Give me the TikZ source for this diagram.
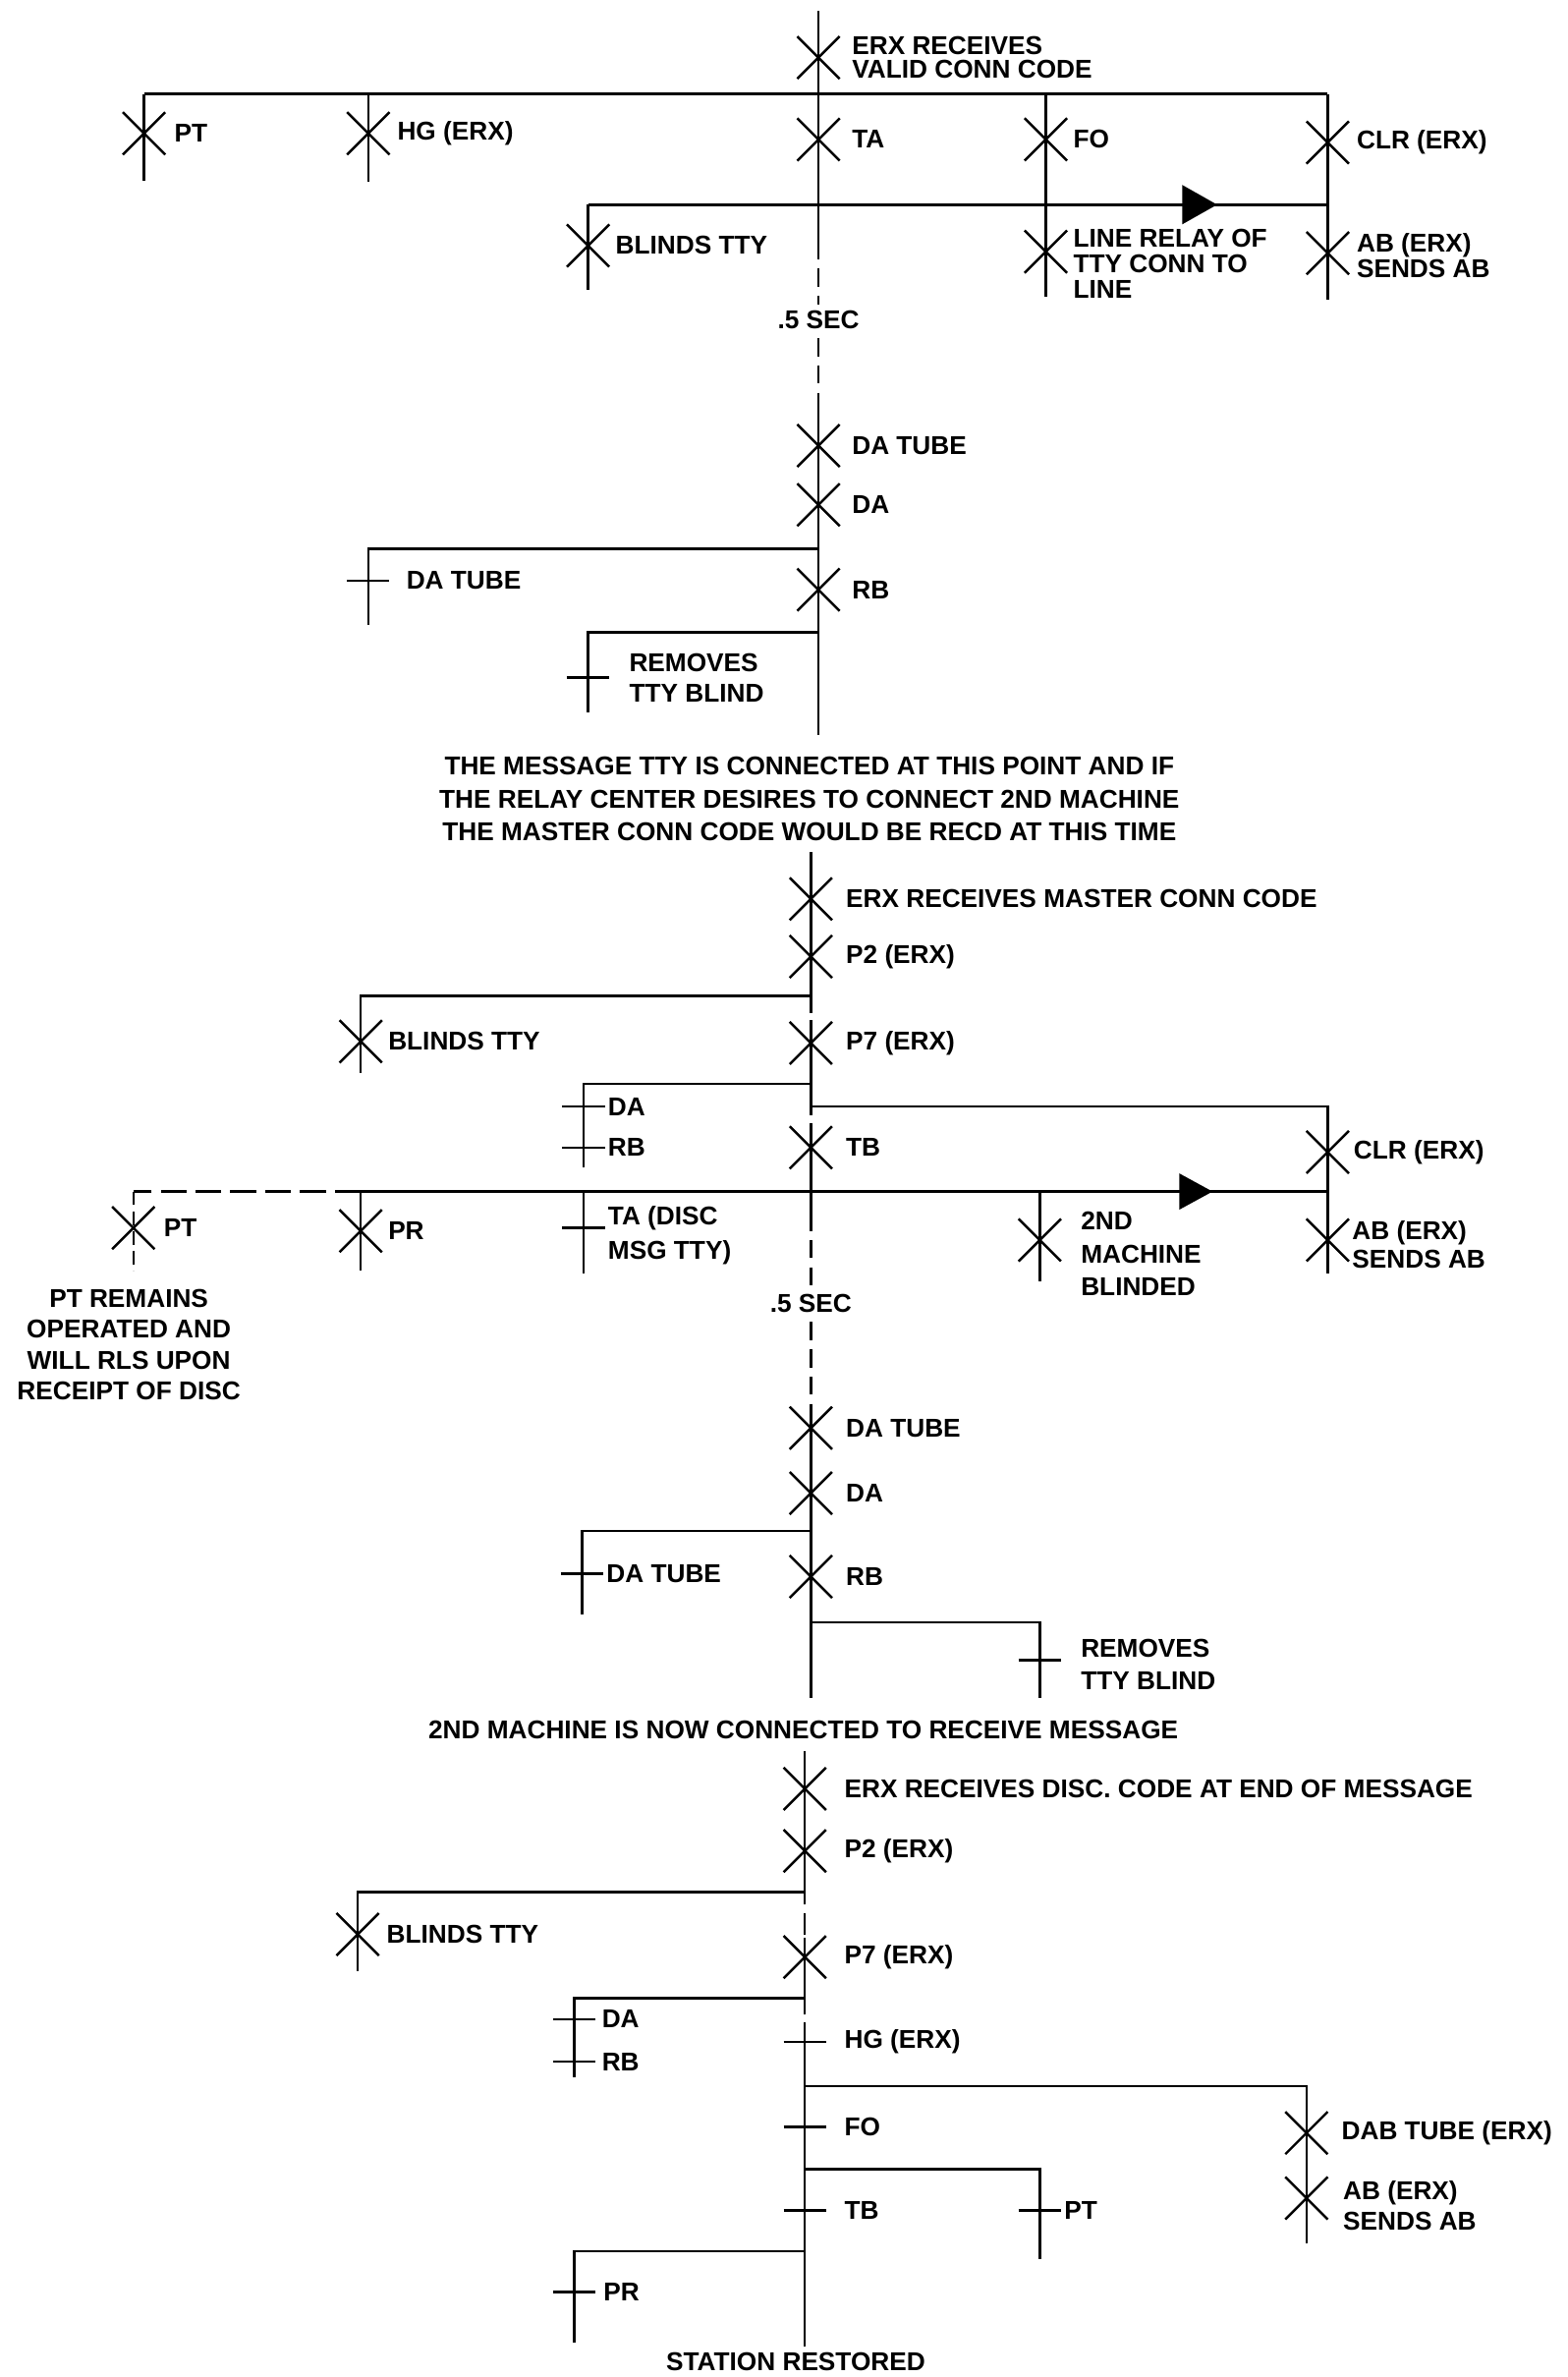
\documentclass[tikz,border=0pt]{standalone}
\usepackage{fontspec}
\setmainfont{Liberation Sans}
\newcommand\lfs[1]{\bfseries\fontsize{17}{#1}\selectfont}
% X-shaped event mark
\newcommand\evx[3]{\coordinate (#1) at (#2,#3);
  \draw[ln] ([shift={(-14,-14)}]#1) -- ([shift={(14,14)}]#1)
            ([shift={(-14,14)}]#1) -- ([shift={(14,-14)}]#1);}
% tick-shaped event mark
\newcommand\evt[3]{\coordinate (#1) at (#2,#3);
  \draw[ln] ([shift={(-14,0)}]#1) -- ([shift={(14,0)}]#1);}
\begin{document}
\begin{tikzpicture}[x=1pt,y=-1pt,
  ln/.style={line width=1.6pt},
  dsh/.style={line width=1.6pt,dash pattern=on 12pt off 6pt},
  dshb/.style={line width=1.6pt,dash pattern=on 17pt off 6pt},
  lbl/.style={font=\lfs{20},anchor=west,inner sep=0pt,align=left},
  ctr/.style={font=\lfs{21.5},inner sep=0pt,align=center},
  tipfill/.style={fill=black}]
\useasboundingbox (0,0) rectangle (1034,1568);

%% ================= SECTION 1 =================
\coordinate (a0) at (540,7);
\coordinate (a1) at (540,62);
\coordinate (a2) at (540,135);
\coordinate (a3) at (540,159);
\coordinate (a4) at (540,201);
\coordinate (a5) at (540,223);
\coordinate (a6) at (540,264);
\coordinate (a7) at (540,362);
\coordinate (a8) at (540,417);
\coordinate (a9) at (540,485);
\draw[ln] (a0) -- (a3);
\draw[dsh] (a3) -- (a4);
\node[ctr] (sec1) at (540,211) {.5 SEC};
\draw[dsh] (a5) -- (a6);
\draw[ln] (a6) -- (a9);

\evx{erx1}{540}{38}
\node[lbl,font=\lfs{16}] (erx1t) at (562,38) {ERX RECEIVES\\VALID CONN CODE};

\coordinate (b1L) at (95,62);
\coordinate (b1hg) at (243,62);
\coordinate (b1fo) at (690,62);
\coordinate (b1R) at (876,62);
\draw[ln] (b1L) -- (b1R);

\coordinate (pt1b) at (95,119);
\draw[ln] (b1L) -- (pt1b);
\evx{pt1}{95}{88}
\node[lbl] (pt1t) at (115,88) {PT};

\coordinate (hg1b) at (243,120);
\draw[ln] (b1hg) -- (hg1b);
\evx{hg1}{243}{88}
\node[lbl] (hg1t) at (262,88) {HG (ERX)};

\evx{ta1}{540}{92}
\node[lbl] (ta1t) at (562,92) {TA};

\coordinate (fo1b) at (690,196);
\draw[ln] (b1fo) -- (fo1b);
\evx{fo1}{690}{92}
\node[lbl] (fo1t) at (708,92) {FO};

\coordinate (clr1b) at (876,198);
\draw[ln] (b1R) -- (clr1b);
\evx{clr1}{876}{94}
\node[lbl] (clr1t) at (895,94) {CLR (ERX)};

\coordinate (b2L) at (388,135);
\coordinate (b2R) at (876,135);
\draw[ln] (b2L) -- (b2R);
\fill[tipfill] (780,122) -- (803,135) -- (780,148) -- cycle;

\coordinate (bl1b) at (388,191);
\draw[ln] (b2L) -- (bl1b);
\evx{bl1}{388}{162}
\node[lbl] (bl1t) at (406,162) {BLINDS TTY};

\evx{lr1}{690}{166}
\node[lbl,font=\lfs{17}] (lr1t) at (708,174) {LINE RELAY OF\\TTY CONN TO\\LINE};

\evx{ab1}{876}{167}
\node[lbl,font=\lfs{17}] (ab1t) at (895,168.5) {AB (ERX)\\SENDS AB};

\evx{dt1}{540}{294}
\node[lbl] (dt1t) at (562,294) {DA TUBE};
\evx{da1}{540}{333}
\node[lbl] (da1t) at (562,333) {DA};

\coordinate (c1) at (243,362);
\coordinate (c1b) at (243,412);
\draw[ln] (a7) -- (c1) -- (c1b);
\evt{dtt1}{243}{383}
\node[lbl] (dtt1t) at (268,383) {DA TUBE};

\evx{rb1}{540}{389}
\node[lbl] (rb1t) at (562,389) {RB};

\coordinate (c2) at (388,417);
\coordinate (c2b) at (388,470);
\draw[ln] (a8) -- (c2) -- (c2b);
\evt{rm1}{388}{447}
\node[lbl] (rm1t) at (415,447) {REMOVES\\TTY BLIND};

\node[ctr] (para) at (534,527) {THE MESSAGE TTY IS CONNECTED AT THIS POINT AND IF\\THE RELAY CENTER DESIRES TO CONNECT 2ND MACHINE\\THE MASTER CONN CODE WOULD BE RECD AT THIS TIME};

%% ================= SECTION 2 =================
\coordinate (m0) at (535,562);
\coordinate (m1) at (535,657);
\coordinate (m2) at (535,668);
\coordinate (m3) at (535,673);
\coordinate (m4) at (535,715);
\coordinate (m5) at (535,730);
\coordinate (m6) at (535,736);
\coordinate (m7) at (535,741);
\coordinate (m8) at (535,786);
\coordinate (m9) at (535,800);
\coordinate (m10) at (535,849);
\coordinate (m11) at (535,872);
\coordinate (m12) at (535,926);
\draw[ln] (m0) -- (m2);
\draw[ln] (m3) -- (m6);
\draw[ln] (m7) -- (m9);
\draw[dsh] (m9) -- (m10);
\node[ctr] (sec2) at (535,860) {.5 SEC};
\draw[dsh] (m11) -- (m12);

\evx{erx2}{535}{593}
\node[lbl] (erx2t) at (558,593) {ERX RECEIVES MASTER CONN CODE};
\evx{p22}{535}{631}
\node[lbl] (p22t) at (558,631) {P2 (ERX)};

\coordinate (d1) at (238,657);
\coordinate (d1b) at (238,708);
\draw[ln] (m1) -- (d1) -- (d1b);
\evx{bl2}{238}{687}
\node[lbl] (bl2t) at (256,687) {BLINDS TTY};

\evx{p72}{535}{688}
\node[lbl] (p72t) at (558,688) {P7 (ERX)};

\coordinate (d2) at (385,715);
\coordinate (d2b) at (385,770);
\draw[ln] (m4) -- (d2) -- (d2b);
\evt{da2}{385}{730}
\node[lbl] (da2t) at (401,730) {DA};
\evt{rb2}{385}{757}
\node[lbl] (rb2t) at (401,757) {RB};

\coordinate (d3) at (876,730);
\coordinate (d3b) at (876,840);
\draw[ln] (m5) -- (d3) -- (d3b);
\evx{clr2}{876}{760}
\node[lbl] (clr2t) at (893,760) {CLR (ERX)};

\evx{tb2}{535}{757}
\node[lbl] (tb2t) at (558,757) {TB};

\coordinate (e0) at (88,786);
\coordinate (e0b) at (88,838);
\coordinate (e1) at (238,786);
\coordinate (e1b) at (238,838);
\coordinate (e2) at (385,786);
\coordinate (e2b) at (385,840);
\coordinate (e3) at (686,786);
\coordinate (e3b) at (686,845);
\coordinate (e4) at (876,786);
\draw[ln] (e1) -- (e4);
\fill[tipfill] (778,774) -- (800,786) -- (778,798) -- cycle;
\draw[dshb] (e1) -- (e0);
\draw[ln,dash pattern=on 9pt off 4pt] (e0) -- (e0b);
\evx{pt2}{88}{810}
\node[lbl] (pt2t) at (108,810) {PT};
\node[ctr,font=\lfs{20.5}] (ptrem) at (85,887) {PT REMAINS\\OPERATED AND\\WILL RLS UPON\\RECEIPT OF DISC};

\draw[ln] (e1) -- (e1b);
\evx{pr2}{238}{812}
\node[lbl] (pr2t) at (256,812) {PR};

\draw[ln] (e2) -- (e2b);
\evt{ta2}{385}{810}
\node[lbl,font=\lfs{23}] (ta2t) at (401,815) {TA (DISC\\MSG TTY)};

\draw[ln] (e3) -- (e3b);
\evx{nd2}{686}{818}
\node[lbl,font=\lfs{21.5}] (nd2t) at (713,827) {2ND\\MACHINE\\BLINDED};

\evx{ab2}{876}{818}
\node[lbl,font=\lfs{19}] (ab2t) at (892,821) {AB (ERX)\\SENDS AB};

%% ================= SECTION 3 =================
\coordinate (n0) at (535,926);
\coordinate (n1) at (535,1010);
\coordinate (n2) at (535,1070);
\coordinate (n3) at (535,1120);
\draw[ln] (n0) -- (n3);
\evx{dt3}{535}{942}
\node[lbl] (dt3t) at (558,942) {DA TUBE};
\evx{da3}{535}{985}
\node[lbl] (da3t) at (558,985) {DA};

\coordinate (f1) at (384,1010);
\coordinate (f1b) at (384,1065);
\draw[ln] (n1) -- (f1) -- (f1b);
\evt{dtt3}{384}{1038}
\node[lbl] (dtt3t) at (400,1038) {DA TUBE};

\evx{rb3}{535}{1040}
\node[lbl] (rb3t) at (558,1040) {RB};

\coordinate (f2) at (686,1070);
\coordinate (f2b) at (686,1120);
\draw[ln] (n2) -- (f2) -- (f2b);
\evt{rm3}{686}{1095}
\node[lbl,font=\lfs{21}] (rm3t) at (713,1098) {REMOVES\\TTY BLIND};

\node[ctr] (conn) at (530,1141) {2ND MACHINE IS NOW CONNECTED TO RECEIVE MESSAGE};

%% ================= SECTION 4 =================
\coordinate (q0) at (531,1155);
\coordinate (q1) at (531,1248);
\coordinate (q2) at (531,1256);
\coordinate (q3) at (531,1262);
\coordinate (q4) at (531,1276);
\coordinate (q5) at (531,1318);
\coordinate (q6) at (531,1329);
\coordinate (q7) at (531,1334);
\coordinate (q8) at (531,1376);
\coordinate (q9) at (531,1431);
\coordinate (q10) at (531,1485);
\coordinate (q11) at (531,1548);
\draw[ln] (q0) -- (q2);
\draw[ln] (q3) -- (q4);
\draw[ln] (q4) ++(0,2) -- (q6);
\draw[ln] (q7) -- (q11);

\evx{erx4}{531}{1180}
\node[lbl] (erx4t) at (557,1180) {ERX RECEIVES DISC. CODE AT END OF MESSAGE};
\evx{p24}{531}{1221}
\node[lbl] (p24t) at (557,1221) {P2 (ERX)};

\coordinate (g1) at (236,1248);
\coordinate (g1b) at (236,1300);
\draw[ln] (q1) -- (g1) -- (g1b);
\evx{bl4}{236}{1276}
\node[lbl] (bl4t) at (255,1276) {BLINDS TTY};

\evx{p74}{531}{1291}
\node[lbl] (p74t) at (557,1291) {P7 (ERX)};

\coordinate (g2) at (379,1318);
\coordinate (g2b) at (379,1370);
\draw[ln] (q5) -- (g2) -- (g2b);
\evt{da4}{379}{1332}
\node[lbl] (da4t) at (397,1332) {DA};
\evt{rb4}{379}{1360}
\node[lbl] (rb4t) at (397,1360) {RB};

\evt{hg4}{531}{1347}
\node[lbl] (hg4t) at (557,1347) {HG (ERX)};

\coordinate (g3) at (862,1376);
\coordinate (g3b) at (862,1480);
\draw[ln] (q8) -- (g3) -- (g3b);
\evx{dab4}{862}{1407}
\node[lbl] (dab4t) at (885,1407) {DAB TUBE (ERX)};
\evx{ab4}{862}{1450}
\node[lbl] (ab4t) at (886,1455) {AB (ERX)\\SENDS AB};

\evt{fo4}{531}{1403}
\node[lbl] (fo4t) at (557,1403) {FO};

\coordinate (g4) at (686,1431);
\coordinate (g4b) at (686,1490);
\draw[ln] (q9) -- (g4) -- (g4b);
\evt{pt4}{686}{1458}
\node[lbl] (pt4t) at (702,1458) {PT};

\evt{tb4}{531}{1458}
\node[lbl] (tb4t) at (557,1458) {TB};

\coordinate (g5) at (379,1485);
\coordinate (g5b) at (379,1545);
\draw[ln] (q10) -- (g5) -- (g5b);
\evt{pr4}{379}{1512}
\node[lbl] (pr4t) at (398,1512) {PR};

\node[ctr] (rest) at (525,1558) {STATION RESTORED};
\end{tikzpicture}
\end{document}
